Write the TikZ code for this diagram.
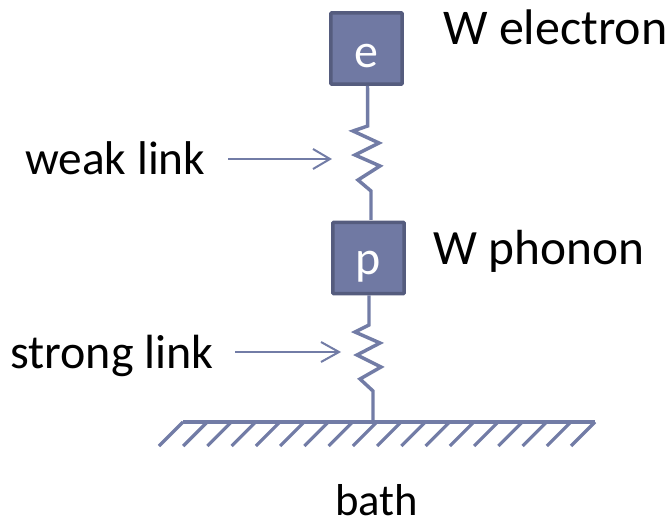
\documentclass[tikz,border=0pt]{standalone}
\usepackage{fontspec}
\usetikzlibrary{calc}
\setmainfont{Carlito}
\definecolor{fillc}{HTML}{7079A3}
\definecolor{edgec}{HTML}{555C7E}
\definecolor{linec}{HTML}{727CA6}
\newcommand{\lowtext}[2]{\smash{\raisebox{#1}{#2}}}
\begin{document}
\begin{tikzpicture}[x=0.75pt,y=-0.75pt,
  massbox/.style={draw=edgec,fill=fillc,line width=2.6pt,rounded corners=0.6pt,minimum size=53.5pt,inner sep=0pt,text=white,font=\fontsize{36}{38}\selectfont},
  spring/.style={draw=linec,line width=2.6pt,line join=miter},
  lbl/.style={font=\fontsize{36}{40}\selectfont,text=black,inner sep=0pt,anchor=base west},
  pointer/.style={draw=linec,line width=1.5pt},
  hatch/.style={draw=linec,line width=2.4pt}]
\useasboundingbox (0,0) rectangle (667,520);
\node[massbox] (e) at (366.5,48.5) {\lowtext{-13.9pt}{e}};
\node[massbox] (p) at (368.5,258) {\lowtext{-12.75pt}{p}};
\coordinate (gc) at (373,422);
\coordinate (gl) at (183,422);
\coordinate (gr) at (595,422);
\draw[spring] (e.south) ++(1,0) -- (367.7,126) -- (353,131) -- (379,143) -- (355,155) -- (380,166) -- (358,180) -- (371,191) -- (371,220);
\draw[spring] (p.south) ++(0.5,0) -- (369,325) -- (355,332) -- (380,343) -- (357,355) -- (381,367) -- (360,379) -- (373,391) -- (gc);
\draw[hatch] (gl) -- (gr);
\foreach \i in {0,...,17} \draw[hatch] ($(gl)+(\i*24.235,0)$) -- ++(-24,24);
\node[lbl,font=\fontsize{37.5}{40}\selectfont] (t1) at (443,45) {W electron};
\node[lbl,font=\fontsize{37}{40}\selectfont] (t2) at (433,265) {W phonon};
\node[lbl,font=\fontsize{35.5}{40}\selectfont] (t3) at (25,175) {weak link};
\node[lbl] (t4) at (10,368) {strong link};
\node[lbl,font=\fontsize{33.5}{40}\selectfont] (t5) at (335,515) {bath};
\coordinate (a1) at (228,159); \coordinate (a2) at (330,159);
\coordinate (b1) at (235,352); \coordinate (b2) at (339,352);
\draw[pointer] (a1) -- (a2);
\draw[pointer] (313,149) -- (a2) -- (313,169);
\draw[pointer] (b1) -- (b2);
\draw[pointer] (321,342) -- (b2) -- (321,362);
\end{tikzpicture}
\end{document}
